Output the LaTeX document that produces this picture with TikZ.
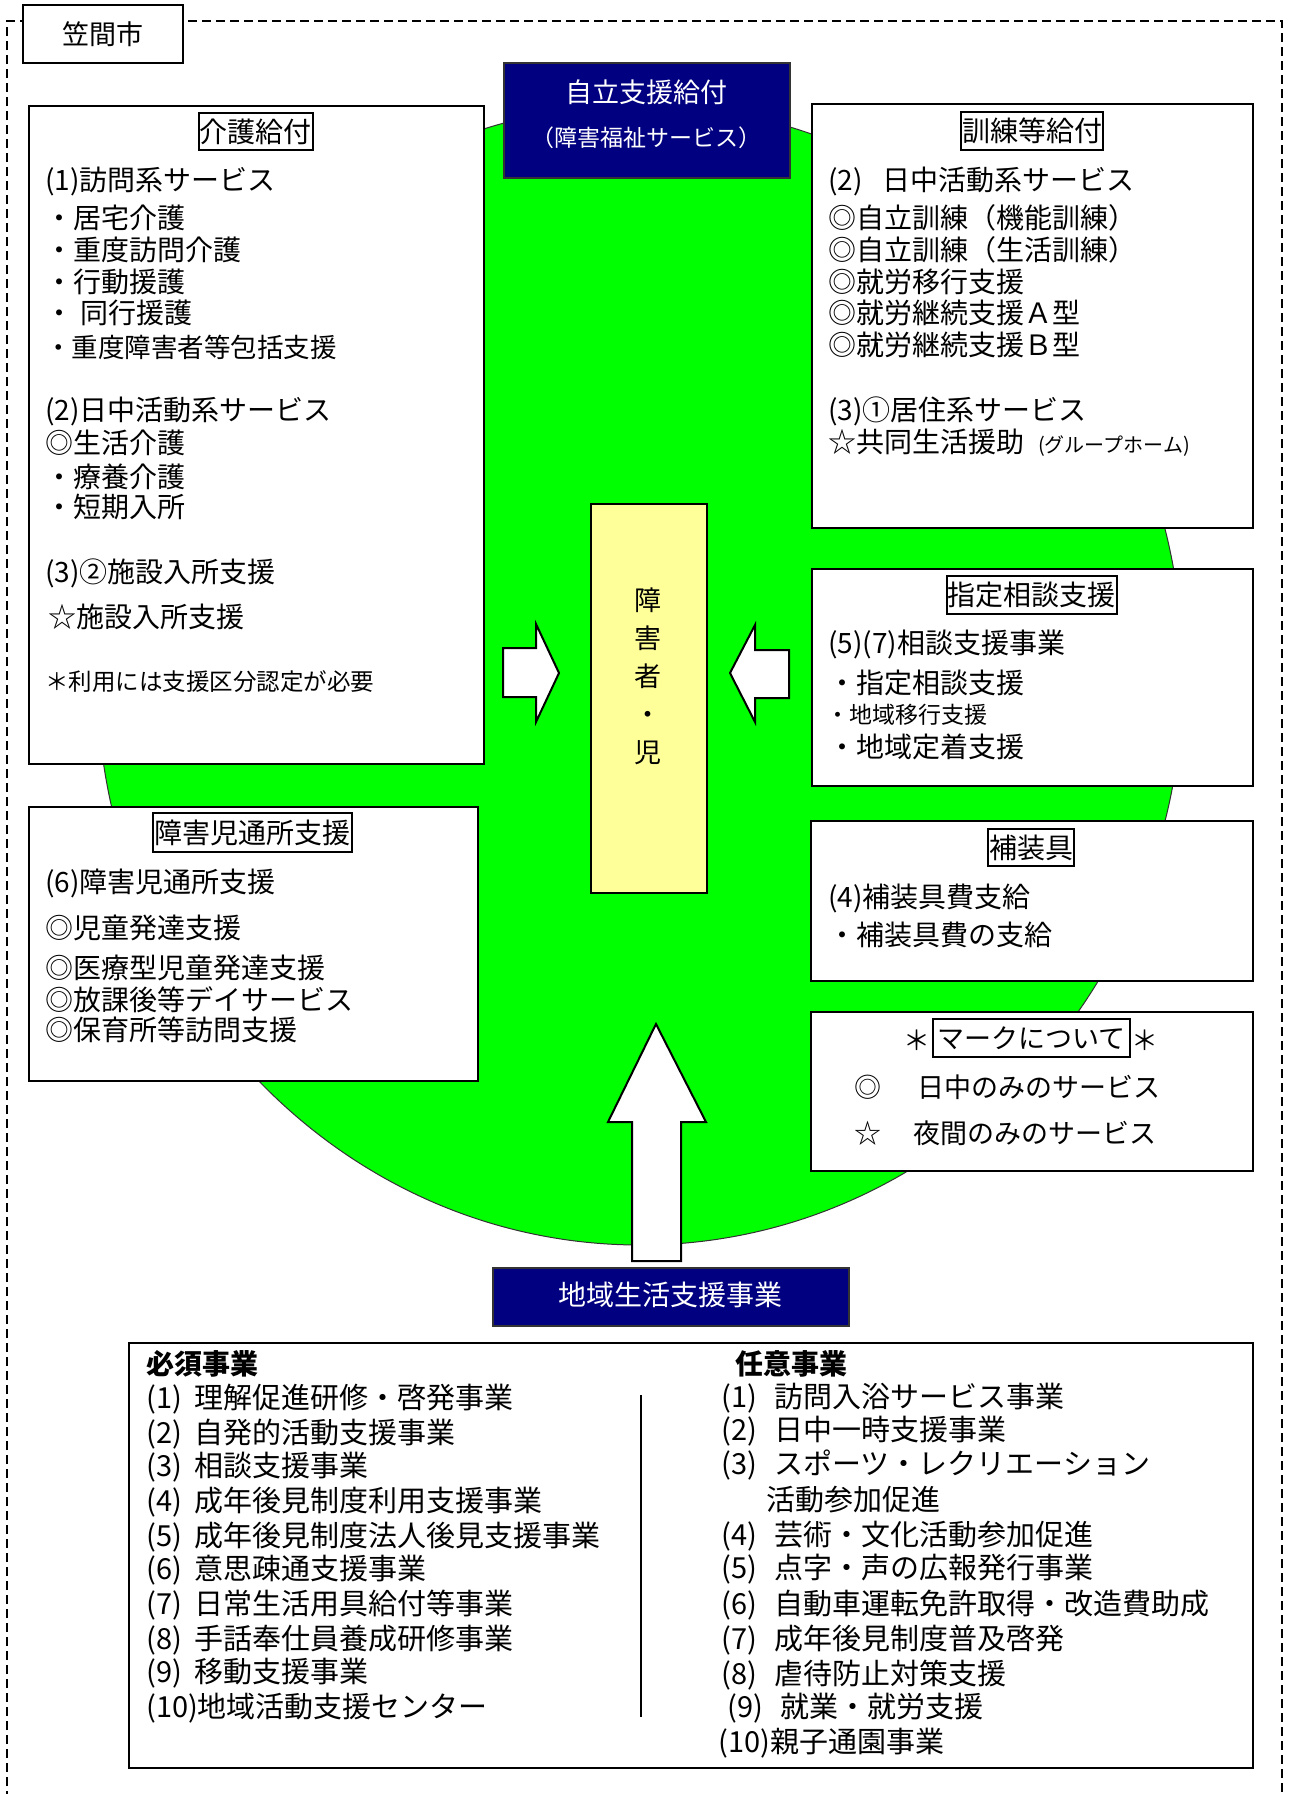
\documentclass[tikz,border=0pt]{standalone}
\usepackage{fontspec}
\setmainfont{Noto Sans CJK JP}
\newcommand\myfs[1]{\fontsize{#1pt}{#1pt}\selectfont}
\definecolor{lime0}{HTML}{00FF00}
\definecolor{navy0}{HTML}{000080}
\definecolor{yel0}{HTML}{FFFF99}
\tikzset{
  box/.style={draw=black, line width=2pt, fill=white, inner sep=0pt, anchor=north west},
  navybox/.style={draw=black!80, line width=2pt, fill=navy0, inner sep=0pt, anchor=north west},
  ttl/.style={draw=black, line width=2pt, fill=white, inner xsep=1pt, inner ysep=0pt, font={\myfs{28}}},
  ln/.style={anchor=base west, inner sep=0pt, font={\myfs{28}}},
  lnb/.style={anchor=base west, inner sep=0pt, font={\myfs{29}}},
  sym/.style={anchor=center, inner sep=0pt, font={\myfs{27}}},
  wtxt/.style={anchor=center, inner sep=0pt, text=white},
  blockarrow/.style={draw=black, line width=2pt, fill=white, line join=miter}
}
\begin{document}
\begin{tikzpicture}[x=1pt,y=-1pt]
\useasboundingbox (0,0) rectangle (1288,1794);
\fill[white] (0,0) rectangle (1288,1794);
% outer dashed frame
\draw[line width=1.5pt, dash pattern=on 9pt off 5pt] (7,1800) -- (7,21) -- (1282,21) -- (1282,1800);
% green ellipse
\draw[fill=lime0, draw=black!80, line width=1pt] (640,675) ellipse [x radius=543, y radius=570];
% city label
\node[box, minimum width=160pt, minimum height=58pt] (kasama) at (22,4) {};
\node[sym] (kasamat) at (kasama.center) {笠間市};
% top navy box
\node[navybox, minimum width=286pt, minimum height=115pt] (jiritsu) at (503,62) {};
\node[wtxt, font={\myfs{27}}] (jiritsua) at (646,92) {自立支援給付};
\node[wtxt, font={\myfs{23}}] (jiritsub) at (646,138) {（障害福祉サービス）};
% left top box
\node[box, minimum width=455pt, minimum height=658pt] (kaigo) at (28,105) {};
\node[ttl, minimum width=113pt, minimum height=37pt] (kaigot) at (255.5,131.5) {介護給付};
\node[ln] (k1) at (45,190) {(1)訪問系サービス};
\node[ln] (k2) at (45,228) {・居宅介護};
\node[ln] (k3) at (45,260) {・重度訪問介護};
\node[ln] (k4) at (45,292) {・行動援護};
\node[ln] (k5) at (45,323) {・\hspace{7pt}同行援護};
\node[ln, font={\myfs{26.5}}] (k6) at (45,357) {・重度障害者等包括支援};
\node[ln] (k7) at (45,420) {(2)日中活動系サービス};
\node[ln] (k8) at (45,453) {◎生活介護};
\node[ln] (k9) at (45,487) {・療養介護};
\node[ln] (k10) at (45,517) {・短期入所};
\node[ln] (k11) at (45,582) {(3)②施設入所支援};
\node[ln] (k12) at (48,627) {☆施設入所支援};
\node[ln, font={\myfs{23.5}}] (k13) at (45,690.5) {＊利用には支援区分認定が必要};
% right top box
\node[box, minimum width=441pt, minimum height=424pt] (kunren) at (811,103) {};
\node[ttl, minimum width=142pt, minimum height=38pt] (kunrent) at (1032,131) {訓練等給付};
\node[ln] (r1) at (828,190) {\makebox[54pt][l]{(2)}日中活動系サービス};
\node[ln] (r2) at (828,228) {◎自立訓練（機能訓練）};
\node[ln] (r3) at (828,260) {◎自立訓練（生活訓練）};
\node[ln] (r4) at (828,292) {◎就労移行支援};
\node[ln] (r5) at (828,323) {◎就労継続支援Ａ型};
\node[ln] (r6) at (828,355) {◎就労継続支援Ｂ型};
\node[ln] (r7) at (828,420) {(3)①居住系サービス};
\node[ln] (r8) at (828,452) {☆共同生活援助\hspace{14pt}{\myfs{20}(グループホーム)}};
% consultation box
\node[box, minimum width=441pt, minimum height=217pt] (shitei) at (811,568) {};
\node[ttl, minimum width=169pt, minimum height=38pt] (shiteit) at (1031.5,595) {指定相談支援};
\node[ln] (s1) at (828,653) {(5)(7)相談支援事業};
\node[ln] (s2) at (828,693) {・指定相談支援};
\node[ln, font={\myfs{23}}] (s3) at (826,723) {・地域移行支援};
\node[ln] (s4) at (828,757) {・地域定着支援};
% prosthetics box
\node[box, minimum width=442pt, minimum height=160pt] (hosougu) at (810,820) {};
\node[ttl, minimum width=86pt, minimum height=37pt] (hosougut) at (1031,847.5) {補装具};
\node[ln] (h1) at (828,907) {(4)補装具費支給};
\node[ln] (h2) at (828,945) {・補装具費の支給};
% mark legend box
\node[box, minimum width=442pt, minimum height=159pt] (mark) at (810,1011) {};
\node[ttl, font={\myfs{27}}, minimum width=197pt, minimum height=38pt] (markt) at (1031.5,1038) {マークについて};
\node[sym] (ma) at (917,1040) {＊};
\node[sym] (mb) at (1145,1040) {＊};
\node[sym] (mc) at (868,1087) {◎};
\node[ln, font={\myfs{27}}] (md) at (917,1097) {日中のみのサービス};
\node[sym] (me) at (868,1133) {☆};
\node[ln, font={\myfs{27}}] (mf) at (913,1143) {夜間のみのサービス};
% children box
\node[box, minimum width=449pt, minimum height=274pt] (jidou) at (28,806) {};
\node[ttl, minimum width=199pt, minimum height=39pt] (jidout) at (252.5,832.5) {障害児通所支援};
\node[ln] (j1) at (45,892) {(6)障害児通所支援};
\node[ln] (j2) at (45,938) {◎児童発達支援};
\node[ln] (j3) at (45,978) {◎医療型児童発達支援};
\node[ln] (j4) at (45,1010) {◎放課後等デイサービス};
\node[ln] (j5) at (45,1040) {◎保育所等訪問支援};
% center person box
\node[draw=black, line width=2pt, fill=yel0, inner sep=0pt, anchor=north west, minimum width=116pt, minimum height=389pt] (person) at (590,503) {};
\node[anchor=center, inner sep=0pt, align=center, font={\fontsize{27pt}{38pt}\selectfont}] (persont) at (648,676) {障\\害\\者\\・\\児};
% block arrows
\draw[blockarrow] (503,648) -- (536,648) -- (536,624) -- (559,673) -- (536,722) -- (536,697) -- (503,697) -- cycle;
\draw[blockarrow] (789,650) -- (755,650) -- (755,625) -- (730,673) -- (755,722) -- (755,698) -- (789,698) -- cycle;
\draw[blockarrow] (632,1261) -- (632,1122) -- (608,1122) -- (656,1024) -- (706,1122) -- (681,1122) -- (681,1261) -- cycle;
% bottom navy box
\node[navybox, minimum width=356pt, minimum height=58pt] (chiiki) at (492,1267) {};
\node[wtxt, font={\myfs{28}}] (chiikit) at (670,1295) {地域生活支援事業};
% bottom list box
\node[box, minimum width=1124pt, minimum height=425pt] (jigyou) at (128,1342) {};
\draw[line width=1.5pt] (641,1395) -- (641,1717);
\node[lnb, font={\bfseries\myfs{28}}] (b0) at (146,1374) {必須事業};
\node[lnb] (b1) at (146,1408) {\makebox[48pt][l]{(1)}理解促進研修・啓発事業};
\node[lnb] (b2) at (146,1443) {\makebox[48pt][l]{(2)}自発的活動支援事業};
\node[lnb] (b3) at (146,1476) {\makebox[48pt][l]{(3)}相談支援事業};
\node[lnb] (b4) at (146,1511) {\makebox[48pt][l]{(4)}成年後見制度利用支援事業};
\node[lnb] (b5) at (146,1546) {\makebox[48pt][l]{(5)}成年後見制度法人後見支援事業};
\node[lnb] (b6) at (146,1579) {\makebox[48pt][l]{(6)}意思疎通支援事業};
\node[lnb] (b7) at (146,1614) {\makebox[48pt][l]{(7)}日常生活用具給付等事業};
\node[lnb] (b8) at (146,1649) {\makebox[48pt][l]{(8)}手話奉仕員養成研修事業};
\node[lnb] (b9) at (146,1682) {\makebox[48pt][l]{(9)}移動支援事業};
\node[lnb] (b10) at (146,1717) {(10)地域活動支援センター};
\node[lnb, font={\bfseries\myfs{28}}] (c0) at (735,1374) {任意事業};
\node[lnb] (c1) at (721,1407) {\makebox[53pt][l]{(1)}訪問入浴サービス事業};
\node[lnb] (c2) at (721,1440) {\makebox[53pt][l]{(2)}日中一時支援事業};
\node[lnb] (c3) at (721,1474) {\makebox[53pt][l]{(3)}スポーツ・レクリエーション};
\node[lnb] (c3b) at (766,1510) {活動参加促進};
\node[lnb] (c4) at (721,1545) {\makebox[53pt][l]{(4)}芸術・文化活動参加促進};
\node[lnb] (c5) at (721,1578) {\makebox[53pt][l]{(5)}点字・声の広報発行事業};
\node[lnb] (c6) at (721,1614) {\makebox[53pt][l]{(6)}自動車運転免許取得・改造費助成};
\node[lnb] (c7) at (721,1649) {\makebox[53pt][l]{(7)}成年後見制度普及啓発};
\node[lnb] (c8) at (721,1684) {\makebox[53pt][l]{(8)}虐待防止対策支援};
\node[lnb] (c9) at (727,1717) {\makebox[53pt][l]{(9)}就業・就労支援};
\node[lnb] (c10) at (718,1752) {(10)親子通園事業};
\end{tikzpicture}
\end{document}
